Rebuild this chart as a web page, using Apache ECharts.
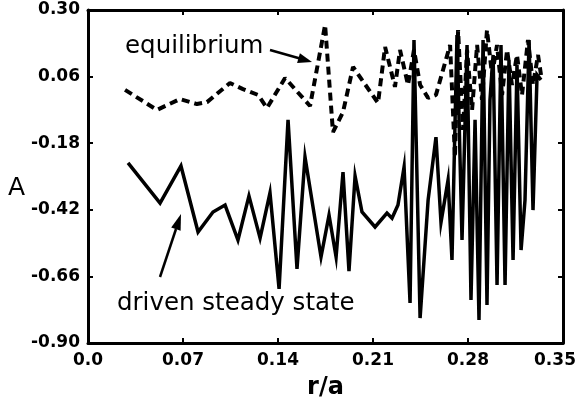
<!DOCTYPE html>
<html><head><meta charset="utf-8">
<script src="https://cdn.jsdelivr.net/npm/echarts@6/dist/echarts.min.js"></script>
<style>html,body{margin:0;padding:0;background:#fff}#c{width:577px;height:404px}</style>
</head><body><div id="c"></div>
<script>
// r/a positions and A values for the driven steady state (solid)
const drivenR = [0.0295,0.0531,0.0685,0.0811,0.0921,0.1010,0.1105,0.1186,0.1268,0.1341,0.1408,0.1474,0.1540,0.1599,0.1717,0.1776,0.1828,0.1879,0.1923,0.1968,0.2019,0.2115,0.2203,0.2240,0.2284,0.2329,0.2373,0.2402,0.2447,0.2506,0.2564,0.2601,0.2653,0.2682,0.2719,0.2756,0.2793,0.2822,0.2852,0.2881,0.2911,0.2940,0.2962,0.2985,0.3014,0.3043,0.3073,0.3102,0.3132,0.3161,0.3191,0.3220,0.3250,0.3279,0.3309,0.3338];
const drivenA = [-0.251,-0.396,-0.262,-0.500,-0.428,-0.403,-0.529,-0.370,-0.522,-0.359,-0.705,-0.096,-0.633,-0.230,-0.590,-0.439,-0.590,-0.284,-0.641,-0.298,-0.428,-0.482,-0.432,-0.450,-0.403,-0.266,-0.756,0.192,-0.810,-0.385,-0.158,-0.465,-0.313,-0.601,0.210,-0.529,0.174,-0.745,-0.096,-0.817,0.192,-0.763,-0.024,0.138,-0.691,0.174,-0.691,0.120,-0.601,0.102,-0.565,-0.385,0.192,-0.421,0.066,0.048];
// equilibrium (dashed)
const equilR = [0.0273,0.0508,0.0678,0.0803,0.0877,0.1046,0.1142,0.1253,0.1319,0.1452,0.1636,0.1747,0.1805,0.1879,0.1953,0.2019,0.2137,0.2189,0.2262,0.2299,0.2358,0.2402,0.2447,0.2506,0.2564,0.2616,0.2668,0.2704,0.2727,0.2763,0.2793,0.2830,0.2867,0.2903,0.2940,0.2977,0.3014,0.3051,0.3088,0.3124,0.3161,0.3198,0.3242,0.3279,0.3316,0.3338];
const equilA = [0.012,-0.060,-0.021,-0.039,-0.032,0.037,0.015,-0.006,-0.053,0.055,-0.046,0.246,-0.140,-0.068,0.095,0.048,-0.035,0.167,0.023,0.156,0.030,0.156,0.030,-0.017,-0.006,0.084,0.174,-0.230,0.228,-0.132,0.156,-0.060,0.174,-0.024,0.228,0.066,0.174,-0.006,0.156,0.030,0.138,-0.006,0.192,0.030,0.138,0.066];
const xTicks = [0, 0.07, 0.14, 0.21, 0.28, 0.35];
const yTicks = [-0.90, -0.66, -0.42, -0.18, 0.06, 0.30];
const xName = 'r/a';
const yName = 'A';
const labelEquil = 'equilibrium';
const labelDriven = 'driven steady state';

const pair = (xs, ys) => xs.map((x, i) => [x, ys[i]]);
const tickFont = {fontFamily: 'DejaVu Sans', fontWeight: 'bold', fontSize: 17, color: '#000'};
const axisLine = {show: true, onZero: false, lineStyle: {color: '#000', width: 3}};
const tick = (vals) => ({show: true, inside: true, length: 5, lineStyle: {color: '#000', width: 2}, customValues: vals});
const xFmt = v => {
  const s = v === 0 ? '0.0' : v.toFixed(2);
  return v === xTicks[xTicks.length - 1] ? '{m|' + s + '}' : s;
};

const chart = echarts.init(document.getElementById('c'), null, {renderer: 'canvas'});
chart.setOption({
  animation: false,
  backgroundColor: '#fff',
  grid: {left: 88, right: 14, top: 10, bottom: 61, containLabel: false, outerBoundsMode: 'none'},
  xAxis: [{
    type: 'value', min: 0, max: 0.35, position: 'bottom',
    axisLine, axisTick: tick(xTicks), splitLine: {show: false},
    axisLabel: Object.assign({margin: 9, customValues: xTicks, formatter: xFmt,
      rich: {m: Object.assign({padding: [0, 16, 0, 0]}, tickFont)}}, tickFont),
    name: xName, nameLocation: 'middle', nameGap: 33,
    nameTextStyle: {fontFamily: 'DejaVu Sans', fontWeight: 'bold', fontSize: 24, color: '#000'}
  }, {
    type: 'value', min: 0, max: 0.35, position: 'top',
    axisLine, axisTick: tick(xTicks), axisLabel: {show: false}, splitLine: {show: false}
  }],
  yAxis: [{
    type: 'value', min: -0.90, max: 0.30, position: 'left',
    axisLine, axisTick: tick(yTicks), splitLine: {show: false},
    axisLabel: Object.assign({margin: 8, customValues: yTicks, formatter: v => v.toFixed(2)}, tickFont)
  }, {
    type: 'value', min: -0.90, max: 0.30, position: 'right',
    axisLine, axisTick: tick(yTicks), axisLabel: {show: false}, splitLine: {show: false}
  }],
  series: [{
    type: 'line', name: labelDriven, data: pair(drivenR, drivenA),
    symbol: 'none', lineStyle: {color: '#000', width: 3.5, join: 'miter'}
  }, {
    type: 'line', name: labelEquil, data: pair(equilR, equilA),
    symbol: 'none', lineStyle: {color: '#000', width: 4, type: [8, 5]}
  }],
  graphic: [
    {type: 'text', left: 8, top: 176, style: {text: yName, font: '25px "DejaVu Sans"', fill: '#000'}},
    {type: 'text', x: 125, y: 46.5, style: {text: labelEquil, font: '24.5px "DejaVu Sans"', fill: '#000', verticalAlign: 'middle'}},
    {type: 'text', x: 117, y: 303.5, style: {text: labelDriven, font: '24.5px "DejaVu Sans"', fill: '#000', verticalAlign: 'middle'}},
    {type: 'line', shape: {x1: 270, y1: 50, x2: 300, y2: 58.5}, style: {stroke: '#000', lineWidth: 2.5}},
    {type: 'polygon', shape: {points: [[312, 62], [297.1, 62.9], [299.9, 53.3]]}, style: {fill: '#000'}},
    {type: 'line', shape: {x1: 160, y1: 277, x2: 176, y2: 229}, style: {stroke: '#000', lineWidth: 2.5}},
    {type: 'polygon', shape: {points: [[181, 214], [180.6, 230.8], [171.2, 227.6]]}, style: {fill: '#000'}}
  ]
});
</script></body></html>
